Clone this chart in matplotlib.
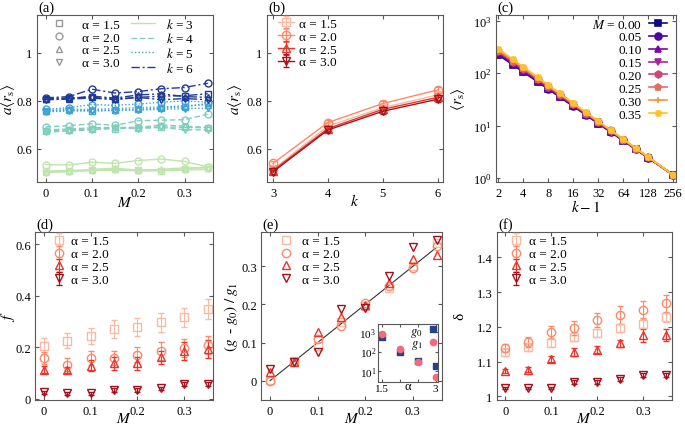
import numpy as np
import matplotlib
matplotlib.use('Agg')
import matplotlib.pyplot as plt
from matplotlib.lines import Line2D
from matplotlib.ticker import FixedLocator, NullLocator, FuncFormatter

plt.rcParams.update({
    'font.family': ['Liberation Serif', 'DejaVu Serif'],
    'mathtext.fontset': 'stix',
    'font.size': 9.5,
    'xtick.labelsize': 9, 'ytick.labelsize': 9,
    'xtick.direction': 'in', 'ytick.direction': 'in',
    'xtick.top': True, 'ytick.right': True,
    'axes.linewidth': 0.8,
    'axes.edgecolor': '0.35',
    'xtick.color': '0.35', 'ytick.color': '0.35',
    'xtick.labelcolor': 'black', 'ytick.labelcolor': 'black',
    'xtick.major.size': 3, 'ytick.major.size': 3,
    'xtick.major.pad': 3.5, 'ytick.major.pad': 3,
    'legend.frameon': False,
})

# ---------------- data ----------------
M = [0.00, 0.05, 0.10, 0.15, 0.20, 0.25, 0.30, 0.35]
alpha_labels = ['α = 1.5', 'α = 2.0', 'α = 2.5', 'α = 3.0']
alpha_markers = ['s', 'o', '^', 'v']
red_colors = ['#f9b9a3', '#fb8a6a', '#e8352c', '#a3121b']

k_labels = ['$k$ = 3', '$k$ = 4', '$k$ = 5', '$k$ = 6']
k_colors = ['#bfe5ae', '#7fcfbc', '#3ea2d2', '#213a96']

# panel (a): a<r_s> vs M, rows = alpha 1.5, 2.0, 2.5, 3.0
a_k3 = [[0.508, 0.510, 0.512, 0.515, 0.512, 0.510, 0.518, 0.525],
        [0.535, 0.533, 0.545, 0.540, 0.552, 0.558, 0.548, 0.525],
        [0.505, 0.508, 0.515, 0.520, 0.512, 0.515, 0.522, 0.520],
        [0.502, 0.505, 0.510, 0.512, 0.508, 0.510, 0.512, 0.515]]
a_k4 = [[0.675, 0.680, 0.682, 0.685, 0.688, 0.692, 0.690, 0.688],
        [0.692, 0.697, 0.705, 0.698, 0.718, 0.720, 0.722, 0.745],
        [0.680, 0.683, 0.688, 0.690, 0.690, 0.700, 0.695, 0.690],
        [0.670, 0.675, 0.680, 0.688, 0.685, 0.690, 0.680, 0.680]]
a_k5 = [[0.758, 0.762, 0.760, 0.762, 0.765, 0.770, 0.775, 0.790],
        [0.765, 0.772, 0.785, 0.782, 0.787, 0.795, 0.800, 0.795],
        [0.760, 0.765, 0.765, 0.768, 0.772, 0.775, 0.780, 0.785],
        [0.755, 0.758, 0.758, 0.760, 0.762, 0.765, 0.768, 0.770]]
a_k6 = [[0.810, 0.812, 0.815, 0.808, 0.815, 0.820, 0.822, 0.830],
        [0.813, 0.818, 0.849, 0.833, 0.839, 0.851, 0.856, 0.874],
        [0.808, 0.810, 0.820, 0.812, 0.825, 0.830, 0.818, 0.815],
        [0.805, 0.808, 0.812, 0.805, 0.815, 0.805, 0.810, 0.805]]

# panel (b): a<r_s> vs k
b_k = [3, 4, 5, 6]
b_vals = [[0.515, 0.695, 0.772, 0.825],
          [0.540, 0.710, 0.789, 0.846],
          [0.510, 0.685, 0.765, 0.815],
          [0.505, 0.679, 0.757, 0.807]]
b_err = [[0.010, 0.012, 0.012, 0.012],
         [0.010, 0.012, 0.012, 0.012],
         [0.008, 0.010, 0.010, 0.010],
         [0.008, 0.010, 0.010, 0.010]]

# panel (c): <r_s> vs k-1, one row per M
c_km1 = [2, 3, 4, 6, 8, 11, 16, 23, 32, 45, 64, 91, 128, 256]
c_labels = ['$M$ = 0.00', '0.05', '0.10', '0.15', '0.20', '0.25', '0.30', '0.35']
c_M000 = [224, 144.5, 105.6, 68.0, 49.7, 35.2, 23.4, 15.8, 11.0, 7.61, 5.19, 3.54, 2.44, 1.15]
c_M005 = [233, 149.5, 109.0, 70.0, 51.0, 36.1, 23.9, 16.1, 11.2, 7.71, 5.25, 3.57, 2.45, 1.15]
c_M010 = [242, 154.7, 112.6, 72.1, 52.4, 36.9, 24.4, 16.4, 11.4, 7.82, 5.30, 3.60, 2.47, 1.15]
c_M015 = [251, 160.1, 116.3, 74.2, 53.8, 37.8, 24.9, 16.7, 11.6, 7.92, 5.36, 3.63, 2.48, 1.15]
c_M020 = [261, 165.7, 120.1, 76.3, 55.3, 38.8, 25.5, 17.0, 11.7, 8.03, 5.42, 3.65, 2.50, 1.15]
c_M025 = [271, 171.5, 124.0, 78.6, 56.8, 39.7, 26.0, 17.3, 11.9, 8.14, 5.47, 3.68, 2.51, 1.15]
c_M030 = [281, 177.4, 128.0, 80.9, 58.3, 40.7, 26.6, 17.6, 12.1, 8.25, 5.53, 3.71, 2.53, 1.15]
c_M035 = [292, 183.6, 132.2, 83.3, 59.9, 41.7, 27.2, 17.9, 12.3, 8.36, 5.59, 3.74, 2.54, 1.15]

# panel (d): f vs M
d_vals = [[0.206, 0.226, 0.243, 0.271, 0.280, 0.297, 0.316, 0.348],
          [0.159, 0.133, 0.157, 0.159, 0.172, 0.187, 0.196, 0.209],
          [0.114, 0.112, 0.129, 0.138, 0.138, 0.161, 0.187, 0.194],
          [0.026, 0.022, 0.022, 0.035, 0.035, 0.041, 0.058, 0.058]]
d_err = [[0.030, 0.030, 0.032, 0.035, 0.035, 0.037, 0.037, 0.040],
         [0.022, 0.025, 0.027, 0.028, 0.030, 0.035, 0.035, 0.035],
         [0.015, 0.010, 0.020, 0.025, 0.025, 0.025, 0.035, 0.035],
         [0.005, 0.005, 0.005, 0.007, 0.007, 0.007, 0.008, 0.008]]

# panel (e): (g - g0)/g1 vs M
e_vals = [[0.003, 0.051, 0.092, 0.153, 0.195, 0.242, 0.300, 0.362],
          [0.000, 0.050, 0.109, 0.144, 0.203, 0.249, 0.297, 0.354],
          [0.022, 0.050, 0.127, 0.166, 0.198, 0.256, 0.319, 0.330],
          [0.031, 0.049, 0.074, 0.188, 0.190, 0.274, 0.350, 0.370]]
e_line = [0.0, 0.35]
ins_alpha = [1.5, 2.0, 2.5, 3.0]
ins_g0 = [518, 100, 34, 19]
ins_g1 = [760, 142, 28, 4.9]

# panel (f): delta vs M
f_vals = [[1.126, 1.141, 1.153, 1.172, 1.182, 1.196, 1.209, 1.228],
          [1.139, 1.156, 1.185, 1.196, 1.220, 1.234, 1.249, 1.268],
          [1.072, 1.077, 1.108, 1.127, 1.134, 1.153, 1.175, 1.176],
          [1.024, 1.024, 1.024, 1.041, 1.041, 1.050, 1.062, 1.062]]
f_err = [[0.010, 0.010, 0.012, 0.012, 0.012, 0.012, 0.013, 0.013],
         [0.012, 0.015, 0.017, 0.020, 0.021, 0.025, 0.025, 0.025],
         [0.006, 0.006, 0.008, 0.012, 0.010, 0.010, 0.020, 0.018],
         [0.004, 0.004, 0.004, 0.005, 0.005, 0.005, 0.006, 0.006]]

# ---------------- figure ----------------
W, H = 685, 427
fig = plt.figure(figsize=(W / 100, H / 100), dpi=100)


def px_axes(l, r, t, b):
    return fig.add_axes([l / W, 1 - b / H, (r - l) / W, (b - t) / H])


gfmt = FuncFormatter(lambda v, p: '%g' % v)


def setup(ax, xt, yt, xlim, ylim, label):
    ax.set_xlim(*xlim)
    ax.set_ylim(*ylim)
    ax.xaxis.set_major_locator(FixedLocator(xt))
    ax.yaxis.set_major_locator(FixedLocator(yt))
    ax.xaxis.set_major_formatter(gfmt)
    ax.yaxis.set_major_formatter(gfmt)
    ax.text(0.01, 1.045, label, transform=ax.transAxes, ha='left', va='center', fontsize=10.5)


def labels(ax, xl, yl, xpos, ypos):
    ax.set_xlabel(xl, fontsize=11, va='baseline')
    ax.set_ylabel(yl, fontsize=11)
    ax.xaxis.set_label_coords(0.5, xpos)
    ax.yaxis.set_label_coords(ypos, 0.5)


ax_a = px_axes(36.7, 213.3, 16, 183)
ax_b = px_axes(266.7, 443, 16, 183)
ax_c = px_axes(495.7, 676, 16, 183)
ax_d = px_axes(35, 213.3, 232.7, 400.7)
ax_e = px_axes(261, 442.3, 232.7, 400.7)
ax_f = px_axes(496.7, 671.7, 232.7, 400.7)

Mticks = [0, 0.1, 0.2, 0.3]
Mlim = (-0.019, 0.362)

# ---- (a)
k_styles = ['-', (0, (4, 2)), (0, (1, 1.5)), (0, (6, 2, 1.5, 2))]
for kdata, col, ls in zip([a_k3, a_k4, a_k5, a_k6], k_colors, k_styles):
    for ser, mk in zip(kdata, alpha_markers):
        ax_a.plot(M, ser, ls=ls, color=col, lw=1.0, marker=mk, ms=5,
                  mfc='none', mec=col, mew=1.0)
setup(ax_a, Mticks, [0.6, 0.8, 1.0], Mlim, (0.4625, 1.158), '(a)')
labels(ax_a, '$M$', r'$a\langle r_{\mathrm{s}}\rangle$', -0.142, -0.11)
h_a = [Line2D([], [], ls='none', marker=mk, ms=5, mfc='none', mec='0.6', mew=1.0)
       for mk in alpha_markers]
h_a += [Line2D([], [], ls=ls, color=c, lw=1.0) for ls, c in zip(k_styles, k_colors)]
ax_a.legend(h_a, alpha_labels + k_labels, ncol=2, loc='upper left',
            bbox_to_anchor=(0.061, 0.99), borderaxespad=0, borderpad=0,
            handlelength=1.8, handletextpad=0.8, columnspacing=0.9,
            labelspacing=0.05, fontsize=9.5)

# ---- (b)
for vals, err, mk, col, lab in zip(b_vals, b_err, alpha_markers, red_colors, alpha_labels):
    ax_b.errorbar(b_k, vals, yerr=err, ls='-', lw=1.0, color=col, marker=mk, ms=6,
                  mfc='none', mec=col, mew=1.0, capsize=2, elinewidth=0.8, label=lab)
setup(ax_b, b_k, [0.6, 0.8, 1.0], (2.885, 6.1), (0.4625, 1.158), '(b)')
labels(ax_b, '$k$', r'$a\langle r_{\mathrm{s}}\rangle$', -0.135, -0.13)
ax_b.legend(loc='upper left', bbox_to_anchor=(0.066, 0.985), borderaxespad=0,
            borderpad=0, handlelength=1.2, handletextpad=0.4, labelspacing=0.05,
            fontsize=9.5)

# ---- (c)
c_series = [c_M000, c_M005, c_M010, c_M015, c_M020, c_M025, c_M030, c_M035]
c_markers = ['s', 'o', '^', 'v', 'h', 'p', '+', (8, 2, 0)]
c_cols = [plt.cm.plasma(v) for v in np.linspace(0.0, 0.87, 8)]
for ser, mk, col, lab in zip(c_series, c_markers, c_cols, c_labels):
    ax_c.plot(c_km1, ser, '-', color=col, lw=1.2, marker=mk, ms=5, mew=1.2, label=lab)
ax_c.set_xscale('log', base=2)
ax_c.set_yscale('log')
ax_c.set_xlim(1.86, 276)
ax_c.set_ylim(0.85, 1285)
ax_c.xaxis.set_major_locator(FixedLocator([2, 4, 8, 16, 32, 64, 128, 256]))
ax_c.xaxis.set_major_formatter(FuncFormatter(lambda v, p: '%d' % round(v)))
ax_c.xaxis.set_minor_locator(NullLocator())
ax_c.yaxis.set_major_locator(FixedLocator([1, 10, 100, 1000]))
ax_c.yaxis.set_minor_locator(NullLocator())
ax_c.text(0.01, 1.045, '(c)', transform=ax_c.transAxes, ha='left', va='center', fontsize=10.5)
labels(ax_c, '$k - 1$', r'$\langle r_{\mathrm{s}}\rangle$', -0.172, -0.16)
ax_c.legend(loc='upper right', bbox_to_anchor=(0.95, 0.985), borderaxespad=0,
            borderpad=0, markerfirst=False, handlelength=1.4, handletextpad=0.5,
            labelspacing=0.05, fontsize=9.5)

# ---- (d)
for vals, err, mk, col, lab in zip(d_vals, d_err, alpha_markers, red_colors, alpha_labels):
    ax_d.errorbar(M, vals, yerr=err, ls='none', color=col, marker=mk, ms=6,
                  mfc='none', mec=col, mew=1.0, capsize=2, elinewidth=0.8, label=lab)
setup(ax_d, Mticks, [0, 0.2, 0.4, 0.6], Mlim, (-0.003, 0.648), '(d)')
labels(ax_d, '$M$', '$f$', -0.13, -0.103)
ax_d.legend(loc='upper left', bbox_to_anchor=(0.084, 0.98), borderaxespad=0,
            borderpad=0, handlelength=1.3, handletextpad=0.3, labelspacing=0.05,
            fontsize=9.5)

# ---- (e)
ax_e.plot(e_line, e_line, '-', color='0.2', lw=0.8, zorder=1)
for vals, mk, col, lab in zip(e_vals, alpha_markers, red_colors, alpha_labels):
    ax_e.plot(M, vals, ls='none', marker=mk, ms=6, mfc='none', mec=col, mew=1.0,
              label=lab, zorder=3)
setup(ax_e, Mticks, [0, 0.1, 0.2, 0.3], Mlim, (-0.05, 0.391), '(e)')
labels(ax_e, '$M$', r'$(g\,$ - $g_0)\;/\;g_1$', -0.13, -0.116)
ax_e.legend(loc='upper left', bbox_to_anchor=(0.09, 0.98), borderaxespad=0,
            borderpad=0, handlelength=1.3, handletextpad=0.6, labelspacing=0.05,
            fontsize=9.5)

ax_in = fig.add_axes([378.3 / W, 1 - 382.7 / H, 60 / W, 57.7 / H])
ax_in.plot(ins_alpha, ins_g0, 's', color='#26408a', ms=4.5, label='$g_0$')
ax_in.plot(ins_alpha, ins_g1, 'o', color='#f26a7b', ms=4.5, label='$g_1$')
ax_in.set_yscale('log')
ax_in.set_xlim(1.406, 3.072)
ax_in.set_ylim(3.0, 2450)
ax_in.xaxis.set_major_locator(FixedLocator([1.5, 2.0, 2.5, 3.0]))
ax_in.xaxis.set_major_formatter(FuncFormatter(lambda v, p: {1.5: '1.5', 3.0: '3'}.get(round(v, 1), '')))
ax_in.yaxis.set_major_locator(FixedLocator([10, 100, 1000]))
ax_in.yaxis.set_minor_locator(NullLocator())
ax_in.tick_params(labelsize=8, length=2, pad=1.5)
ax_in.set_xlabel('α', labelpad=-9, fontsize=9)
ax_in.legend(loc='upper right', bbox_to_anchor=(0.99, 0.99), borderaxespad=0,
             borderpad=0, markerfirst=False, handlelength=0.8, handletextpad=0.4,
             labelspacing=-0.1, fontsize=9)

# ---- (f)
for vals, err, mk, col, lab in zip(f_vals, f_err, alpha_markers, red_colors, alpha_labels):
    ax_f.errorbar(M, vals, yerr=err, ls='none', color=col, marker=mk, ms=6,
                  mfc='none', mec=col, mew=1.0, capsize=2, elinewidth=0.8, label=lab)
setup(ax_f, Mticks, [1.0, 1.1, 1.2, 1.3, 1.4], Mlim, (0.99, 1.474), '(f)')
labels(ax_f, '$M$', 'δ', -0.13, -0.175)
ax_f.legend(loc='upper left', bbox_to_anchor=(0.057, 0.98), borderaxespad=0,
            borderpad=0, handlelength=1.4, handletextpad=0.3, labelspacing=0.05,
            fontsize=9.5)

fig.savefig('out.png', dpi=100)
